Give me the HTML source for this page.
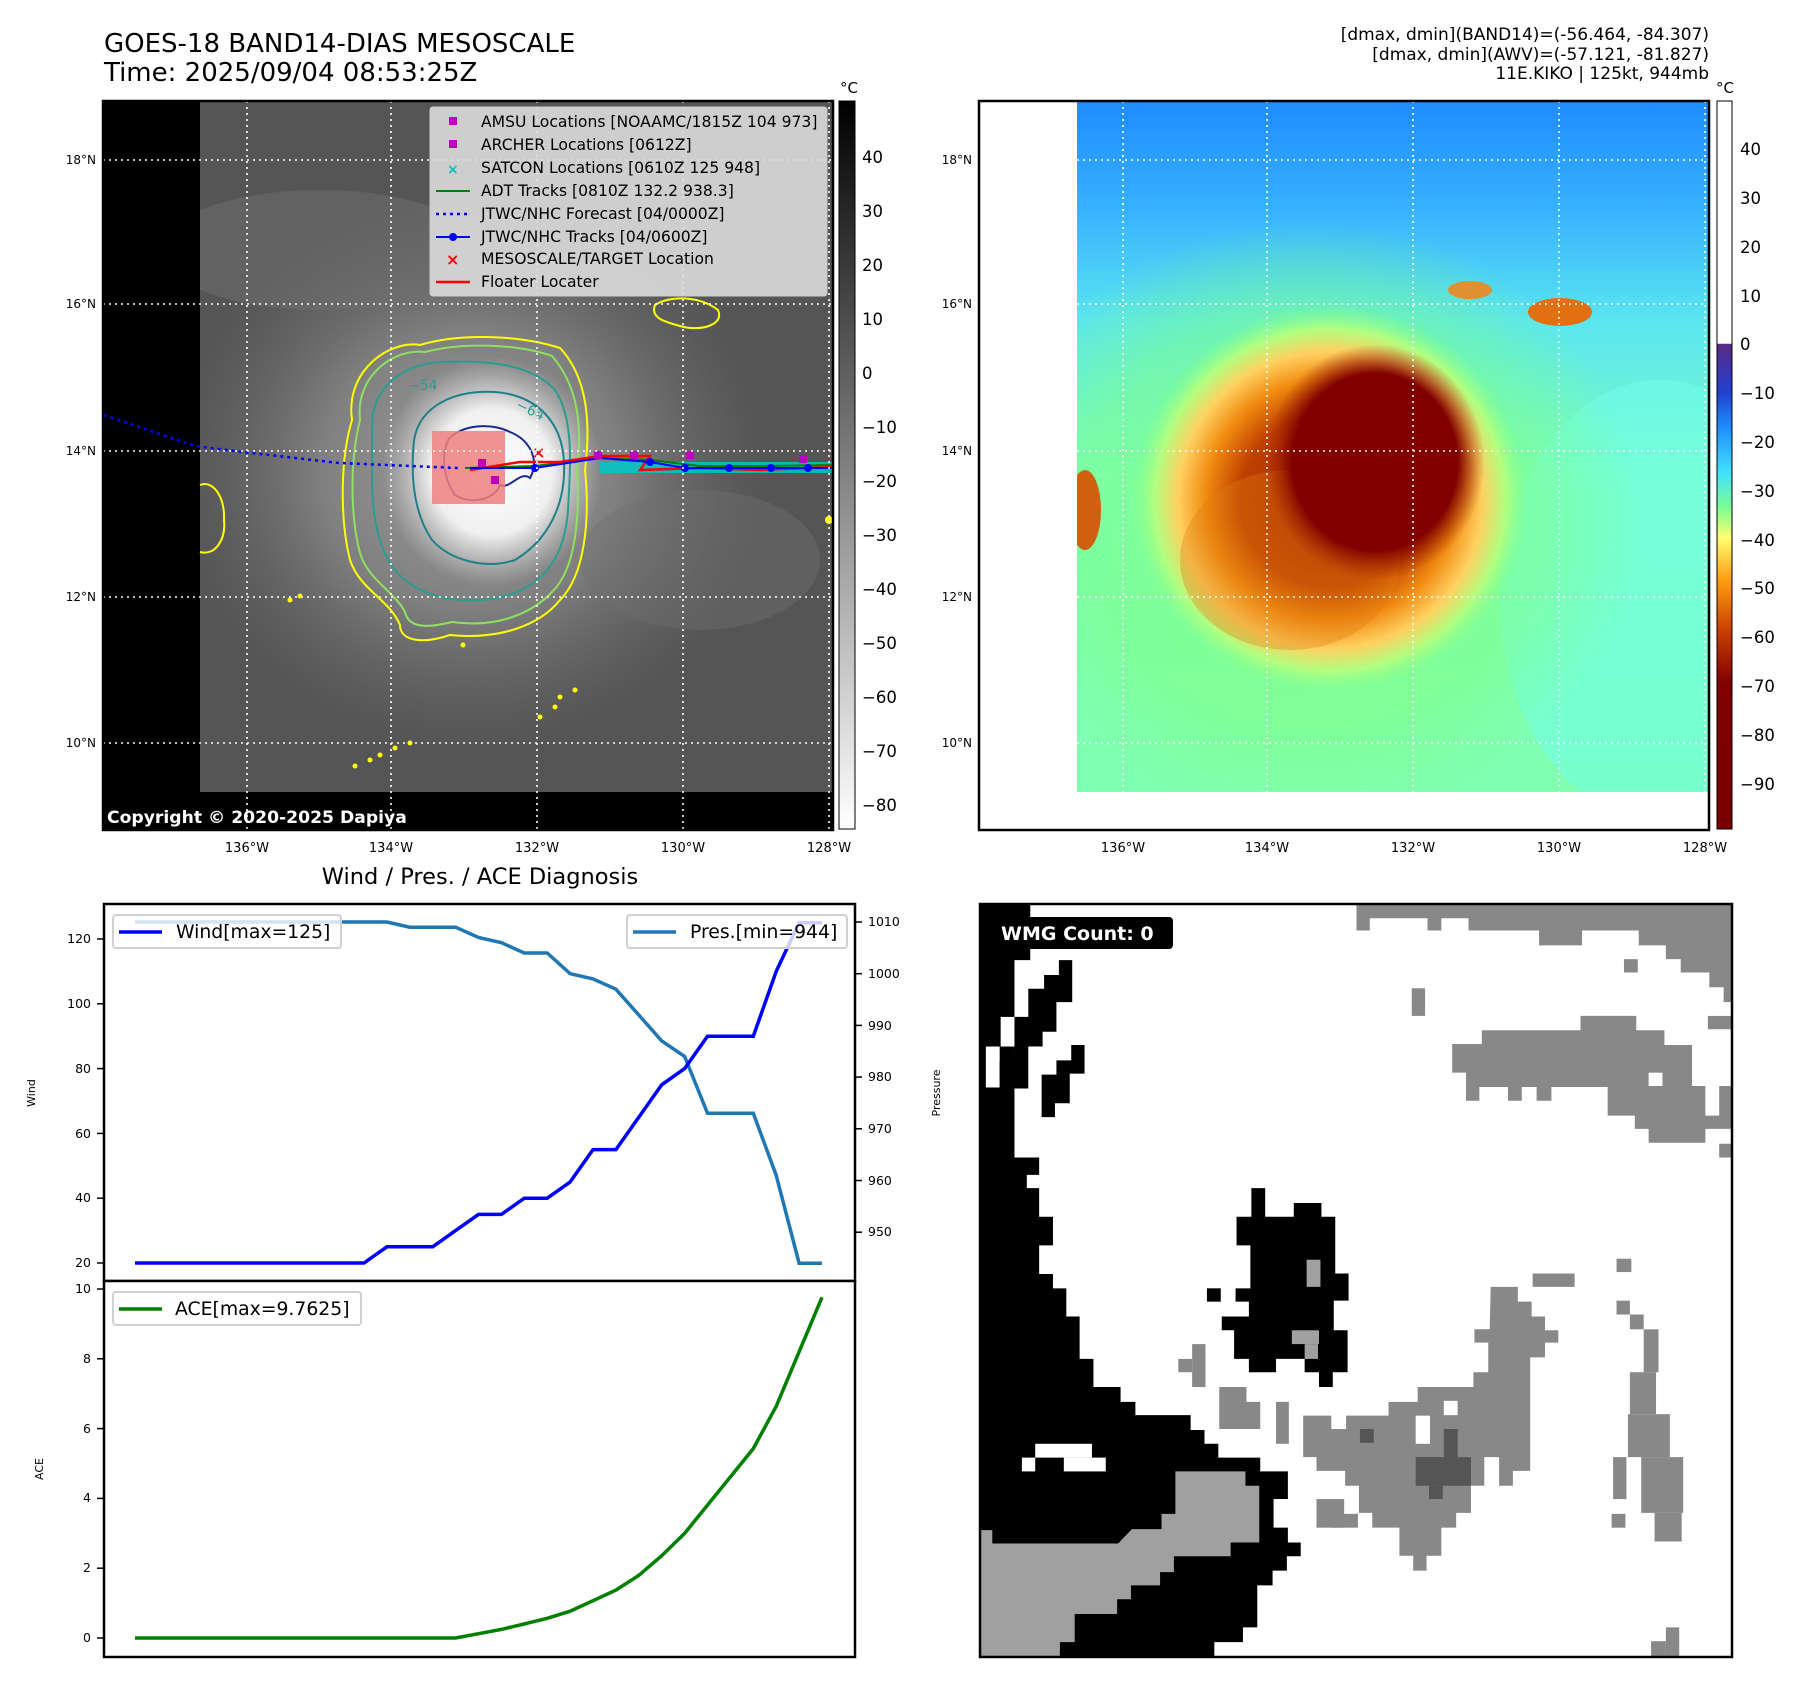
<!DOCTYPE html>
<html><head><meta charset="utf-8"><style>
html,body{margin:0;padding:0;background:#fff;}
svg{display:block;font-family:"DejaVu Sans","Liberation Sans",sans-serif;}
</style></head><body>
<svg width="1797" height="1690" viewBox="0 0 1797 1690" xmlns="http://www.w3.org/2000/svg">
<defs>
<linearGradient id="cbg" x1="0" y1="0" x2="0" y2="1"><stop offset="0" stop-color="#000"/><stop offset="1" stop-color="#fff"/></linearGradient>
<linearGradient id="cbr" x1="0" y1="0" x2="0" y2="1">
<stop offset="0" stop-color="#fff"/><stop offset="0.333" stop-color="#fff"/><stop offset="0.334" stop-color="#5a2a86"/>
<stop offset="0.40" stop-color="#2040d0"/><stop offset="0.45" stop-color="#1e90ff"/><stop offset="0.51" stop-color="#40e0ff"/>
<stop offset="0.56" stop-color="#80ff90"/><stop offset="0.60" stop-color="#ffff70"/><stop offset="0.66" stop-color="#ff9a10"/>
<stop offset="0.73" stop-color="#c83c00"/><stop offset="0.80" stop-color="#800000"/><stop offset="1" stop-color="#7a0000"/></linearGradient>
<radialGradient id="halo" cx="0.5" cy="0.5" r="0.5"><stop offset="0" stop-color="#b0b0b0"/><stop offset="0.5" stop-color="#8a8a8a"/><stop offset="1" stop-color="#6a6a6a" stop-opacity="0"/></radialGradient>
<radialGradient id="core" cx="0.5" cy="0.5" r="0.5"><stop offset="0" stop-color="#fff"/><stop offset="0.55" stop-color="#f0f0f0"/><stop offset="1" stop-color="#c8c8c8" stop-opacity="0"/></radialGradient>
<linearGradient id="rbg" x1="0" y1="0" x2="0" y2="1"><stop offset="0" stop-color="#1e8cff"/><stop offset="0.15" stop-color="#36b0ff"/><stop offset="0.32" stop-color="#5ae6f0"/><stop offset="0.55" stop-color="#7cffc0"/><stop offset="1" stop-color="#80ffb0"/></linearGradient>
<radialGradient id="rstorm" cx="0.5" cy="0.5" r="0.5"><stop offset="0" stop-color="#a02000"/><stop offset="0.45" stop-color="#c04000"/><stop offset="0.62" stop-color="#f08a10"/><stop offset="0.76" stop-color="#ffd060"/><stop offset="0.88" stop-color="#b0ff80"/><stop offset="1" stop-color="#80ff90" stop-opacity="0"/></radialGradient>
<radialGradient id="rcore" cx="0.5" cy="0.5" r="0.5"><stop offset="0" stop-color="#800000"/><stop offset="0.75" stop-color="#800000"/><stop offset="1" stop-color="#a02800" stop-opacity="0"/></radialGradient>
<radialGradient id="rgreen" cx="0.5" cy="0.5" r="0.5"><stop offset="0" stop-color="#80ff80"/><stop offset="0.7" stop-color="#80ff80" stop-opacity="0.7"/><stop offset="1" stop-color="#80ff80" stop-opacity="0"/></radialGradient>
<clipPath id="lclip"><rect x="200" y="101" width="633" height="691"/></clipPath>
<clipPath id="rclip"><rect x="1077" y="101" width="632" height="691"/></clipPath>
<clipPath id="wclip"><rect x="980" y="904" width="752" height="753"/></clipPath>
</defs>

<!-- Titles -->
<text x="104" y="52" font-size="26">GOES-18 BAND14-DIAS MESOSCALE</text>
<text x="104" y="81" font-size="26">Time: 2025/09/04 08:53:25Z</text>
<g font-size="17" text-anchor="end">
<text x="1709" y="40">[dmax, dmin](BAND14)=(-56.464, -84.307)</text>
<text x="1709" y="60">[dmax, dmin](AWV)=(-57.121, -81.827)</text>
<text x="1709" y="79">11E.KIKO | 125kt, 944mb</text>
</g>

<!-- LEFT MAP -->
<rect x="103" y="101" width="730" height="729" fill="#000"/>
<g clip-path="url(#lclip)">
<rect x="200" y="101" width="633" height="691" fill="#555"/>
<ellipse cx="470" cy="470" rx="300" ry="280" fill="url(#halo)" opacity="0.8"/>
<ellipse cx="320" cy="250" rx="160" ry="60" fill="#707070" opacity="0.5"/>
<ellipse cx="700" cy="560" rx="120" ry="70" fill="#707070" opacity="0.4"/>
<ellipse cx="492" cy="472" rx="110" ry="115" fill="url(#core)"/>
</g>
<!-- contours -->
<g fill="none" stroke-width="2">
<path d="M352,420 C345,370 390,340 420,345 C460,333 520,335 560,348 C590,380 590,430 585,470 C590,520 585,575 560,600 C540,625 500,640 450,635 C420,645 400,640 400,625 C390,600 360,590 350,560 C340,520 340,460 352,420 Z" stroke="#ffff00"/>
<path d="M360,420 C355,375 395,348 425,352 C462,342 518,344 552,356 C580,388 582,432 577,470 C580,520 575,570 552,592 C530,615 495,628 452,622 C420,630 408,625 405,612 C395,592 368,580 360,553 C350,515 350,460 360,420 Z" stroke="#90e060"/>
<path d="M372,430 C370,390 400,365 440,362 C480,360 530,362 555,390 C575,420 570,470 568,510 C565,555 545,585 505,596 C470,605 430,600 405,580 C380,560 372,520 372,480 Z" stroke="#2a9d8f"/>
<path d="M414,440 C420,405 455,390 495,392 C535,395 562,420 564,462 C566,505 548,540 515,560 C485,570 450,560 432,540 C415,515 410,480 414,440 Z" stroke="#20808a"/>
<path d="M448,440 C460,425 490,422 510,432 C530,440 540,460 530,478 C520,470 510,490 500,485 C495,500 470,505 455,495 C445,480 440,460 448,440 Z" stroke="#1a2a8e"/>
<path d="M655,305 C670,295 700,296 718,310 C725,325 700,332 680,326 C665,322 650,318 655,305 Z" stroke="#ffff00"/>
<path d="M200,485 C212,480 225,495 224,520 C226,540 215,556 200,552" stroke="#ffff00"/>
</g>
<text x="408" y="390" font-size="14" fill="#2a9d8f">−54</text>
<text x="515" y="408" font-size="14" fill="#2a9d8f" transform="rotate(25 515 408)">−64</text>
<g fill="#ffff00">
<circle cx="555" cy="707" r="2.5"/><circle cx="560" cy="697" r="2.5"/><circle cx="575" cy="690" r="2.5"/><circle cx="463" cy="645" r="2.5"/><circle cx="540" cy="717" r="2.5"/>
<circle cx="380" cy="755" r="2.5"/><circle cx="395" cy="748" r="2.5"/><circle cx="410" cy="743" r="2.5"/><circle cx="370" cy="760" r="2.5"/><circle cx="355" cy="766" r="2.5"/>
<circle cx="290" cy="600" r="2.5"/><circle cx="300" cy="596" r="2.5"/><circle cx="829" cy="520" r="4"/></g>
<rect x="432" y="431" width="73" height="73" fill="#f08080" opacity="0.85"/>
<!-- tracks -->
<polyline points="104,415 195,446 243,452 339,463 458,468" fill="none" stroke="#0000ff" stroke-width="2.5" stroke-dasharray="3,4"/>
<path d="M600,462 L833,462 L833,473 L600,473 Z" fill="#00c8c8" opacity="0.85"/>
<polyline points="465,468 535,466 598,458 650,460 700,466 760,466 833,465" fill="none" stroke="#008000" stroke-width="2"/>
<polyline points="470,470 520,462 560,462 600,456 650,456 640,470 700,468 760,470 833,467" fill="none" stroke="#ff0000" stroke-width="2.5"/>
<polyline points="470,468 535,468 600,458 650,462 685,468 729,468 771,468 808,468 833,468" fill="none" stroke="#0000ff" stroke-width="2"/>
<g fill="#0000ff"><circle cx="535" cy="468" r="4"/><circle cx="650" cy="462" r="4"/><circle cx="685" cy="468" r="4"/><circle cx="729" cy="468" r="4"/><circle cx="771" cy="468" r="4"/><circle cx="808" cy="468" r="4"/></g>
<g fill="#c000c0"><rect x="594" y="451" width="8" height="8"/><rect x="630" y="451" width="8" height="8"/><rect x="686" y="451" width="8" height="8"/><rect x="799" y="455" width="8" height="8"/><rect x="478" y="459" width="8" height="8"/><rect x="491" y="476" width="8" height="8"/></g>
<text x="532" y="458" font-size="16" fill="#ff0000" font-weight="bold">×</text>
<!-- grid -->
<g stroke="#fff" stroke-width="1.6" stroke-dasharray="2,4">
<line x1="247" y1="101" x2="247" y2="830"/><line x1="391" y1="101" x2="391" y2="830"/><line x1="537" y1="101" x2="537" y2="830"/><line x1="683" y1="101" x2="683" y2="830"/><line x1="829" y1="101" x2="829" y2="830"/>
<line x1="103" y1="160" x2="833" y2="160"/><line x1="103" y1="304" x2="833" y2="304"/><line x1="103" y1="451" x2="833" y2="451"/><line x1="103" y1="597" x2="833" y2="597"/><line x1="103" y1="743" x2="833" y2="743"/>
</g>
<!-- legend -->
<rect x="430" y="107" width="397" height="189" rx="3" fill="#dcdcdc" fill-opacity="0.9" stroke="#cccccc"/>
<g font-size="15.6" fill="#000">
<rect x="449" y="117" width="8" height="8" fill="#c000c0"/><text x="481" y="127">AMSU Locations [NOAAMC/1815Z 104 973]</text>
<rect x="449" y="140" width="8" height="8" fill="#c000c0"/><text x="481" y="150">ARCHER Locations [0612Z]</text>
<text x="447" y="174" fill="#00c0c0" font-size="14" font-weight="bold">×</text><text x="481" y="173">SATCON Locations [0610Z 125 948]</text>
<line x1="436" y1="191" x2="470" y2="191" stroke="#008000" stroke-width="2"/><text x="481" y="196">ADT Tracks [0810Z 132.2 938.3]</text>
<line x1="436" y1="214" x2="470" y2="214" stroke="#0000ff" stroke-width="2.5" stroke-dasharray="3,4"/><text x="481" y="219">JTWC/NHC Forecast [04/0000Z]</text>
<line x1="436" y1="237" x2="470" y2="237" stroke="#0000ff" stroke-width="2"/><circle cx="453" cy="237" r="4" fill="#0000ff"/><text x="481" y="242">JTWC/NHC Tracks [04/0600Z]</text>
<text x="446" y="265" fill="#ff0000" font-size="16" font-weight="bold">×</text><text x="481" y="264">MESOSCALE/TARGET Location</text>
<line x1="436" y1="282" x2="470" y2="282" stroke="#ff0000" stroke-width="2.5"/><text x="481" y="287">Floater Locater</text>
</g>
<text x="107" y="823" font-size="17.2" font-weight="bold" fill="#fff">Copyright © 2020-2025 Dapiya</text>
<rect x="103" y="101" width="730" height="729" fill="none" stroke="#000" stroke-width="2.5"/>
<g font-size="12" text-anchor="end"><text x="96" y="164">18°N</text><text x="96" y="308">16°N</text><text x="96" y="455">14°N</text><text x="96" y="601">12°N</text><text x="96" y="747">10°N</text></g>
<g font-size="13" text-anchor="middle"><text x="247" y="852">136°W</text><text x="391" y="852">134°W</text><text x="537" y="852">132°W</text><text x="683" y="852">130°W</text><text x="829" y="852">128°W</text></g>
<rect x="839" y="101" width="16" height="728" fill="url(#cbg)" stroke="#000" stroke-width="1"/>
<text x="849" y="93" font-size="15" text-anchor="middle">°C</text>
<g font-size="16.5"><text x="862" y="163">40</text><text x="862" y="217">30</text><text x="862" y="271">20</text><text x="862" y="325">10</text><text x="862" y="379">0</text><text x="862" y="433">−10</text><text x="862" y="487">−20</text><text x="862" y="541">−30</text><text x="862" y="595">−40</text><text x="862" y="649">−50</text><text x="862" y="703">−60</text><text x="862" y="757">−70</text><text x="862" y="811">−80</text></g>

<!-- RIGHT MAP -->
<rect x="979" y="101" width="730" height="729" fill="#fff"/>
<g clip-path="url(#rclip)">
<rect x="1077" y="101" width="632" height="691" fill="url(#rbg)"/>
<ellipse cx="1660" cy="600" rx="160" ry="220" fill="#70fff0" opacity="0.5"/>
<ellipse cx="1310" cy="520" rx="330" ry="300" fill="url(#rgreen)" opacity="0.7"/>
<ellipse cx="1330" cy="500" rx="200" ry="195" fill="url(#rstorm)"/>
<ellipse cx="1290" cy="560" rx="110" ry="90" fill="#e07a10" opacity="0.35"/>
<ellipse cx="1375" cy="462" rx="110" ry="118" fill="url(#rcore)"/>
<ellipse cx="1560" cy="312" rx="32" ry="14" fill="#e07010"/>
<ellipse cx="1470" cy="290" rx="22" ry="9" fill="#e09030"/>
<ellipse cx="1085" cy="510" rx="16" ry="40" fill="#d06010"/>
</g>
<g stroke="#fff" stroke-width="1.6" stroke-dasharray="2,4">
<line x1="1123" y1="101" x2="1123" y2="792"/><line x1="1267" y1="101" x2="1267" y2="792"/><line x1="1413" y1="101" x2="1413" y2="792"/><line x1="1559" y1="101" x2="1559" y2="792"/><line x1="1705" y1="101" x2="1705" y2="792"/>
<line x1="1077" y1="160" x2="1709" y2="160"/><line x1="1077" y1="304" x2="1709" y2="304"/><line x1="1077" y1="451" x2="1709" y2="451"/><line x1="1077" y1="597" x2="1709" y2="597"/><line x1="1077" y1="743" x2="1709" y2="743"/>
</g>
<rect x="979" y="101" width="730" height="729" fill="none" stroke="#000" stroke-width="2.5"/>
<g font-size="12" text-anchor="end"><text x="972" y="164">18°N</text><text x="972" y="308">16°N</text><text x="972" y="455">14°N</text><text x="972" y="601">12°N</text><text x="972" y="747">10°N</text></g>
<g font-size="13" text-anchor="middle"><text x="1123" y="852">136°W</text><text x="1267" y="852">134°W</text><text x="1413" y="852">132°W</text><text x="1559" y="852">130°W</text><text x="1705" y="852">128°W</text></g>
<rect x="1717" y="101" width="15" height="728" fill="url(#cbr)" stroke="#000" stroke-width="1"/>
<text x="1725" y="93" font-size="15" text-anchor="middle">°C</text>
<g font-size="16.5"><text x="1740" y="155">40</text><text x="1740" y="204">30</text><text x="1740" y="253">20</text><text x="1740" y="302">10</text><text x="1740" y="350">0</text><text x="1740" y="399">−10</text><text x="1740" y="448">−20</text><text x="1740" y="497">−30</text><text x="1740" y="546">−40</text><text x="1740" y="594">−50</text><text x="1740" y="643">−60</text><text x="1740" y="692">−70</text><text x="1740" y="741">−80</text><text x="1740" y="790">−90</text></g>

<!-- BOTTOM LEFT CHART -->
<text x="480" y="884" font-size="22.5" text-anchor="middle">Wind / Pres. / ACE Diagnosis</text>
<rect x="104" y="904" width="751" height="377" fill="#fff" stroke="#000" stroke-width="2.5"/>
<rect x="104" y="1281" width="751" height="376" fill="#fff" stroke="#000" stroke-width="2.5"/>
<polyline points="135,922 386.9,922 409.8,927.2 455.6,927.2 478.5,937.5 501.4,942.7 524.3,953 547.2,953 570.1,973.7 593,978.9 615.9,989.2 638.8,1015 661.7,1040.9 684.6,1056.4 707.5,1113.3 753.3,1113.3 776.2,1175.3 799.1,1263.2 822,1263.2" fill="none" stroke="#1f77b4" stroke-width="3.5"/>
<polyline points="135,1263 364,1263 386.9,1246.8 432.7,1246.8 455.6,1230.6 478.5,1214.4 501.4,1214.4 524.3,1198.2 547.2,1198.2 570.1,1182 593,1149.6 615.9,1149.6 638.8,1117.2 661.7,1084.8 684.6,1068.6 707.5,1036.2 753.3,1036.2 776.2,971.4 799.1,922.8 822,922.8" fill="none" stroke="#0000ff" stroke-width="3.5"/>
<polyline points="135,1638 455.6,1638 478.5,1633.7 501.4,1629.4 524.3,1623.9 547.2,1618.3 570.1,1611.2 593,1600.7 615.9,1590.1 638.8,1575.4 661.7,1555.7 684.6,1533.4 707.5,1505.1 730.4,1476.9 753.3,1448.6 776.2,1406.3 799.1,1351.8 822,1297.3" fill="none" stroke="#008000" stroke-width="3.5"/>
<rect x="113" y="915" width="228" height="33" rx="3" fill="#fff" fill-opacity="0.8" stroke="#d0d0d0" stroke-width="2"/>
<line x1="119" y1="932" x2="162" y2="932" stroke="#0000ff" stroke-width="3.5"/><text x="176" y="938" font-size="18.8">Wind[max=125]</text>
<rect x="627" y="915" width="220" height="33" rx="3" fill="#fff" fill-opacity="0.8" stroke="#d0d0d0" stroke-width="2"/>
<line x1="633" y1="932" x2="676" y2="932" stroke="#1f77b4" stroke-width="3.5"/><text x="690" y="938" font-size="18.8">Pres.[min=944]</text>
<rect x="113" y="1292" width="248" height="33" rx="3" fill="#fff" fill-opacity="0.8" stroke="#d0d0d0" stroke-width="2"/>
<line x1="119" y1="1309" x2="162" y2="1309" stroke="#008000" stroke-width="3.5"/><text x="175" y="1315" font-size="18.8">ACE[max=9.7625]</text>
<g stroke="#000" stroke-width="1.5">
<line x1="97" y1="1263" x2="104" y2="1263"/><line x1="97" y1="1198.2" x2="104" y2="1198.2"/><line x1="97" y1="1133.4" x2="104" y2="1133.4"/><line x1="97" y1="1068.6" x2="104" y2="1068.6"/><line x1="97" y1="1003.8" x2="104" y2="1003.8"/><line x1="97" y1="939" x2="104" y2="939"/>
<line x1="855" y1="1232.2" x2="862" y2="1232.2"/><line x1="855" y1="1180.5" x2="862" y2="1180.5"/><line x1="855" y1="1128.8" x2="862" y2="1128.8"/><line x1="855" y1="1077.1" x2="862" y2="1077.1"/><line x1="855" y1="1025.4" x2="862" y2="1025.4"/><line x1="855" y1="973.7" x2="862" y2="973.7"/><line x1="855" y1="922" x2="862" y2="922"/>
<line x1="97" y1="1638" x2="104" y2="1638"/><line x1="97" y1="1568.2" x2="104" y2="1568.2"/><line x1="97" y1="1498.4" x2="104" y2="1498.4"/><line x1="97" y1="1428.6" x2="104" y2="1428.6"/><line x1="97" y1="1358.8" x2="104" y2="1358.8"/><line x1="97" y1="1289" x2="104" y2="1289"/>
</g>
<g font-size="12.5" text-anchor="end">
<text x="91" y="1267">20</text><text x="91" y="1202">40</text><text x="91" y="1138">60</text><text x="91" y="1073">80</text><text x="91" y="1008">100</text><text x="91" y="943">120</text>
<text x="91" y="1642">0</text><text x="91" y="1572">2</text><text x="91" y="1502">4</text><text x="91" y="1433">6</text><text x="91" y="1363">8</text><text x="91" y="1293">10</text>
</g>
<g font-size="12.5"><text x="868" y="1236">950</text><text x="868" y="1185">960</text><text x="868" y="1133">970</text><text x="868" y="1081">980</text><text x="868" y="1030">990</text><text x="868" y="978">1000</text><text x="868" y="926">1010</text></g>
<text x="35" y="1093" font-size="11" text-anchor="middle" transform="rotate(-90 35 1093)">Wind</text>
<text x="43" y="1469" font-size="11" text-anchor="middle" transform="rotate(-90 43 1469)">ACE</text>
<text x="940" y="1093" font-size="11" text-anchor="middle" transform="rotate(-90 940 1093)">Pressure</text>

<!-- WMG PANEL -->
<rect x="980" y="904" width="752" height="753" fill="#fff"/>
<g clip-path="url(#wclip)">
<g transform="translate(975,896) scale(0.4935)">
<polygon fill="#000" points="10,15 112,15 112,130 80,130 80,530 130,530 130,565 105,565 105,592 130,592 130,650 158,650 158,708 130,708 130,766 158,766 158,795 185,795 185,852 212,852 212,938 240,938 240,995 295,995 295,1025 325,1025 325,1052 437,1052 437,1082 465,1082 465,1110 493,1110 493,1138 578,1138 578,1166 634,1166 634,1222 605,1222 605,1280 634,1280 634,1310 660,1310 660,1338 632,1338 632,1367 603,1367 603,1397 572,1397 572,1482 543,1482 543,1512 485,1512 485,1545 0,1545 0,15"/>
<g fill="#fff"><rect x="80" y="158" width="30" height="87"/><rect x="52" y="245" width="28" height="60"/><rect x="22" y="305" width="28" height="83"/><rect x="122" y="1110" width="115" height="28"/><rect x="95" y="1138" width="27" height="28"/><rect x="180" y="1138" width="85" height="28"/></g>
<polygon fill="#000" points="170,130 197,130 197,215 165,215 165,275 137,275 137,305 108,305 108,390 50,390 50,335 80,335 80,245 108,245 108,188 140,188 140,160 170,160"/>
<polygon fill="#000" points="195,302 222,302 222,360 192,360 192,420 162,420 162,448 135,448 135,362 165,362 165,333 195,333"/>
<polygon fill="#a0a0a0" points="10,1285 35,1285 35,1312 290,1312 318,1283 378,1283 378,1252 406,1252 406,1166 548,1166 548,1195 576,1195 576,1310 518,1310 518,1338 403,1338 403,1370 375,1370 375,1397 316,1397 316,1425 288,1425 288,1455 202,1455 202,1512 172,1512 172,1545 10,1545"/>
<polygon fill="#000" points="560,592 588,592 588,650 646,650 646,622 702,622 702,650 730,650 730,765 757,765 757,820 727,820 727,880 755,880 755,965 725,965 725,995 697,995 697,965 668,965 668,938 610,938 610,965 555,965 555,938 525,938 525,880 500,880 500,852 555,852 555,822 528,822 528,795 558,795 558,708 530,708 530,650 560,650"/>
<rect x="470" y="795" width="28" height="27" fill="#000"/>
<g fill="#a0a0a0"><rect x="672" y="737" width="28" height="55"/><rect x="642" y="880" width="55" height="28"/><rect x="668" y="908" width="27" height="30"/></g>
<g fill="#888">
<polygon points="773,10 1545,10 1545,215 1517,215 1517,185 1488,185 1488,155 1430,155 1430,128 1400,128 1400,100 1345,100 1345,70 1230,70 1230,100 1143,100 1143,70 1000,70 1000,45 945,45 945,70 917,70 917,45 800,45 800,70 773,70"/>
<rect x="1315" y="128" width="28" height="27"/><rect x="885" y="187" width="27" height="56"/><rect x="1485" y="243" width="60" height="27"/><rect x="1508" y="502" width="37" height="28"/>
<polygon points="1227,243 1340,243 1340,272 1397,272 1397,302 1453,302 1453,385 1480,385 1480,445 1508,445 1508,385 1545,385 1545,472 1480,472 1480,500 1365,500 1365,472 1337,472 1337,445 1282,445 1282,387 1168,387 1168,415 1138,415 1138,387 1108,387 1108,415 1080,415 1080,387 1022,387 1022,415 995,415 995,358 967,358 967,300 1027,300 1027,272 1227,272"/>
<polygon points="1045,792 1100,792 1100,822 1128,822 1128,852 1155,852 1155,880 1182,880 1182,905 1155,905 1155,935 1125,935 1125,1165 1090,1165 1090,1195 1062,1195 1062,1137 1032,1137 1032,1195 1005,1195 1005,1250 975,1250 975,1280 945,1280 945,1337 915,1337 915,1367 888,1367 888,1337 860,1337 860,1280 805,1280 805,1250 778,1250 778,1195 750,1195 750,1165 692,1165 692,1137 665,1137 665,1053 722,1053 722,1080 752,1080 752,1053 838,1053 838,1025 897,1025 897,995 1010,995 1010,965 1040,965 1040,905 1012,905 1012,878 1043,878"/>
<rect x="692" y="1222" width="56" height="58"/><rect x="722" y="1252" width="54" height="28"/>
<polygon points="495,995 550,995 550,1025 578,1025 578,1080 495,1080"/>
<rect x="610" y="1025" width="26" height="85"/><rect x="440" y="908" width="27" height="87"/><rect x="412" y="938" width="28" height="27"/>
<rect x="1130" y="765" width="85" height="27"/><rect x="1300" y="735" width="30" height="27"/>
<rect x="1300" y="820" width="27" height="28"/><rect x="1327" y="848" width="28" height="30"/><rect x="1355" y="878" width="30" height="87"/><rect x="1327" y="965" width="53" height="85"/><rect x="1323" y="1050" width="85" height="87"/><rect x="1350" y="1137" width="85" height="113"/><rect x="1377" y="1250" width="55" height="58"/><rect x="1293" y="1137" width="27" height="85"/><rect x="1290" y="1252" width="28" height="28"/>
<rect x="1400" y="1482" width="27" height="63"/><rect x="1370" y="1510" width="30" height="35"/>
</g>
<g fill="#fff"><rect x="1365" y="358" width="28" height="27"/><rect x="950" y="1023" width="28" height="29"/><rect x="893" y="1053" width="29" height="57"/></g>
<g fill="#555"><rect x="893" y="1137" width="112" height="58"/><rect x="950" y="1080" width="28" height="57"/><rect x="780" y="1080" width="28" height="28"/><rect x="920" y="1195" width="28" height="27"/></g>
</g>
</g>
<rect x="980" y="904" width="752" height="753" fill="none" stroke="#000" stroke-width="2.5"/>
<rect x="992" y="917" width="181" height="32" rx="4" fill="#000"/>
<text x="1001" y="940" font-size="19" font-weight="bold" fill="#fff">WMG Count: 0</text>
</svg>
</body></html>
